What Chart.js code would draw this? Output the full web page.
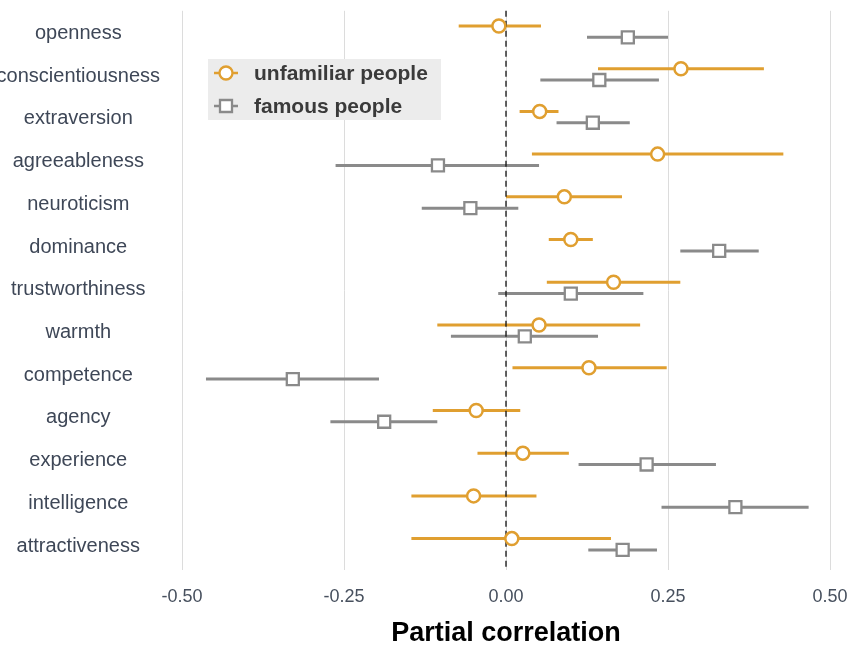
<!DOCTYPE html>
<html>
<head>
<meta charset="utf-8">
<script src="https://cdn.jsdelivr.net/npm/chart.js@4/dist/chart.umd.min.js"></script>
<style>
  html, body { margin: 0; padding: 0; background: #fff; }
  #wrap { width: 848px; height: 650px; }
</style>
</head>
<body>
<div id="wrap"><canvas id="myChart" width="848" height="650"></canvas></div>
<script>
// traits, top to bottom
var traits = ['openness', 'conscientiousness', 'extraversion', 'agreeableness', 'neuroticism',
  'dominance', 'trustworthiness', 'warmth', 'competence', 'agency', 'experience',
  'intelligence', 'attractiveness'];

// unfamiliar people: estimate and 95% interval
var unfamiliarEst = [-0.011, 0.270, 0.052, 0.234, 0.090, 0.100, 0.166, 0.051, 0.128, -0.046, 0.026, -0.050, 0.009];
var unfamiliarLo  = [-0.073, 0.142, 0.021, 0.040, 0.000, 0.066, 0.063, -0.106, 0.010, -0.113, -0.044, -0.146, -0.146];
var unfamiliarHi  = [0.054, 0.398, 0.081, 0.428, 0.179, 0.134, 0.269, 0.207, 0.248, 0.022, 0.097, 0.047, 0.162];

// famous people: estimate and 95% interval
var famousEst = [0.188, 0.144, 0.134, -0.105, -0.055, 0.329, 0.100, 0.029, -0.329, -0.188, 0.217, 0.354, 0.180];
var famousLo  = [0.125, 0.053, 0.078, -0.263, -0.130, 0.269, -0.012, -0.085, -0.463, -0.271, 0.112, 0.240, 0.127];
var famousHi  = [0.250, 0.236, 0.191, 0.051, 0.019, 0.390, 0.212, 0.142, -0.196, -0.106, 0.324, 0.467, 0.233];

var xTicks = [-0.5, -0.25, 0, 0.25, 0.5];

var orange = '#e09f30';
var grey = '#8a8a8a';
var font = 'Liberation Sans, Arial, Helvetica, sans-serif';

// vertical dodge of the two groups inside each row
var dodgeUnfamiliar = -0.175;
var dodgeFamous = 0.09;

function toPoints(est, dodge) {
  return est.map(function (v, i) { return { x: v, y: i + dodge }; });
}

var series = [
  { lo: unfamiliarLo, hi: unfamiliarHi, dodge: dodgeUnfamiliar, color: orange },
  { lo: famousLo, hi: famousHi, dodge: dodgeFamous, color: grey }
];

// error bars + dashed zero line, drawn under the markers
var errorBars = {
  id: 'errorBars',
  beforeDatasetsDraw: function (chart) {
    var ctx = chart.ctx;
    var xs = chart.scales.x, ys = chart.scales.y;
    ctx.save();
    ctx.lineWidth = 3;
    ctx.lineCap = 'butt';
    series.forEach(function (s) {
      ctx.strokeStyle = s.color;
      s.lo.forEach(function (lo, i) {
        var y = ys.getPixelForValue(i + s.dodge);
        ctx.beginPath();
        ctx.moveTo(xs.getPixelForValue(lo), y);
        ctx.lineTo(xs.getPixelForValue(s.hi[i]), y);
        ctx.stroke();
      });
    });
    var x0 = xs.getPixelForValue(0);
    ctx.strokeStyle = '#111';
    ctx.lineWidth = 1.3;
    ctx.setLineDash([6, 4]);
    ctx.beginPath();
    ctx.moveTo(x0, chart.chartArea.top);
    ctx.lineTo(x0, chart.chartArea.bottom);
    ctx.stroke();
    ctx.restore();
  }
};

// legend box inside the plot, top left
var legendBox = {
  id: 'legendBox',
  afterDraw: function (chart) {
    var ctx = chart.ctx;
    ctx.save();
    ctx.fillStyle = '#ececec';
    ctx.fillRect(208, 59, 233, 61);
    var rows = [
      { label: 'unfamiliar people', color: orange, shape: 'circle', y: 73 },
      { label: 'famous people', color: grey, shape: 'rect', y: 106 }
    ];
    rows.forEach(function (r) {
      ctx.strokeStyle = r.color;
      ctx.lineWidth = 2.5;
      ctx.beginPath();
      ctx.moveTo(214, r.y);
      ctx.lineTo(238, r.y);
      ctx.stroke();
      ctx.fillStyle = '#fff';
      ctx.lineWidth = 2.3;
      ctx.beginPath();
      if (r.shape === 'circle') {
        ctx.arc(226, r.y, 6.5, 0, Math.PI * 2);
      } else {
        ctx.rect(220, r.y - 6, 12, 12);
      }
      ctx.fill();
      ctx.stroke();
      ctx.fillStyle = '#3a3a3a';
      ctx.font = 'bold 21px ' + font;
      ctx.textAlign = 'left';
      ctx.textBaseline = 'middle';
      ctx.fillText(r.label, 254, r.y + 1);
    });
    ctx.restore();
  }
};

var ctx = document.getElementById('myChart').getContext('2d');
var myChart = new Chart(ctx, {
  type: 'scatter',
  data: {
    datasets: [{
      label: 'unfamiliar people',
      data: toPoints(unfamiliarEst, dodgeUnfamiliar),
      pointStyle: 'circle',
      pointRadius: 6.5,
      pointBorderWidth: 2.5,
      borderColor: orange,
      backgroundColor: '#fff'
    }, {
      label: 'famous people',
      data: toPoints(famousEst, dodgeFamous),
      pointStyle: 'rect',
      pointRadius: 8.5,
      pointBorderWidth: 2.3,
      borderColor: grey,
      backgroundColor: '#fff'
    }]
  },
  options: {
    responsive: false,
    animation: false,
    layout: { padding: { top: 3, right: 18, bottom: 0, left: 0 } },
    plugins: {
      legend: { display: false },
      tooltip: { enabled: false }
    },
    scales: {
      x: {
        type: 'linear',
        min: -0.5,
        max: 0.5,
        afterBuildTicks: function (scale) {
          scale.ticks = xTicks.map(function (v) { return { value: v }; });
        },
        afterFit: function (scale) {
          scale.paddingLeft = 0;
          scale.paddingRight = 0;
          scale.height = 80;
        },
        ticks: {
          color: '#47505e',
          font: { family: font, size: 18 },
          padding: 16,
          callback: function (v) { return v.toFixed(2); }
        },
        grid: { color: '#dcdcdc', lineWidth: 1, drawTicks: false },
        border: { display: false },
        title: {
          display: true,
          text: 'Partial correlation',
          color: '#000',
          font: { family: font, size: 27, weight: 'bold' },
          padding: { top: 13, bottom: 0 }
        }
      },
      y: {
        type: 'linear',
        reverse: true,
        min: -0.53,
        max: 12.56,
        afterBuildTicks: function (scale) {
          scale.ticks = traits.map(function (t, i) { return { value: i }; });
        },
        afterFit: function (scale) {
          scale.width = 182;
          scale.paddingTop = 0;
          scale.paddingBottom = 0;
        },
        ticks: {
          color: '#3e4757',
          font: { family: font, size: 20 },
          crossAlign: 'center',
          padding: 22,
          callback: function (v) { return traits[v]; }
        },
        grid: { display: false, drawTicks: false },
        border: { display: false }
      }
    }
  },
  plugins: [errorBars, legendBox]
});
</script>
</body>
</html>
